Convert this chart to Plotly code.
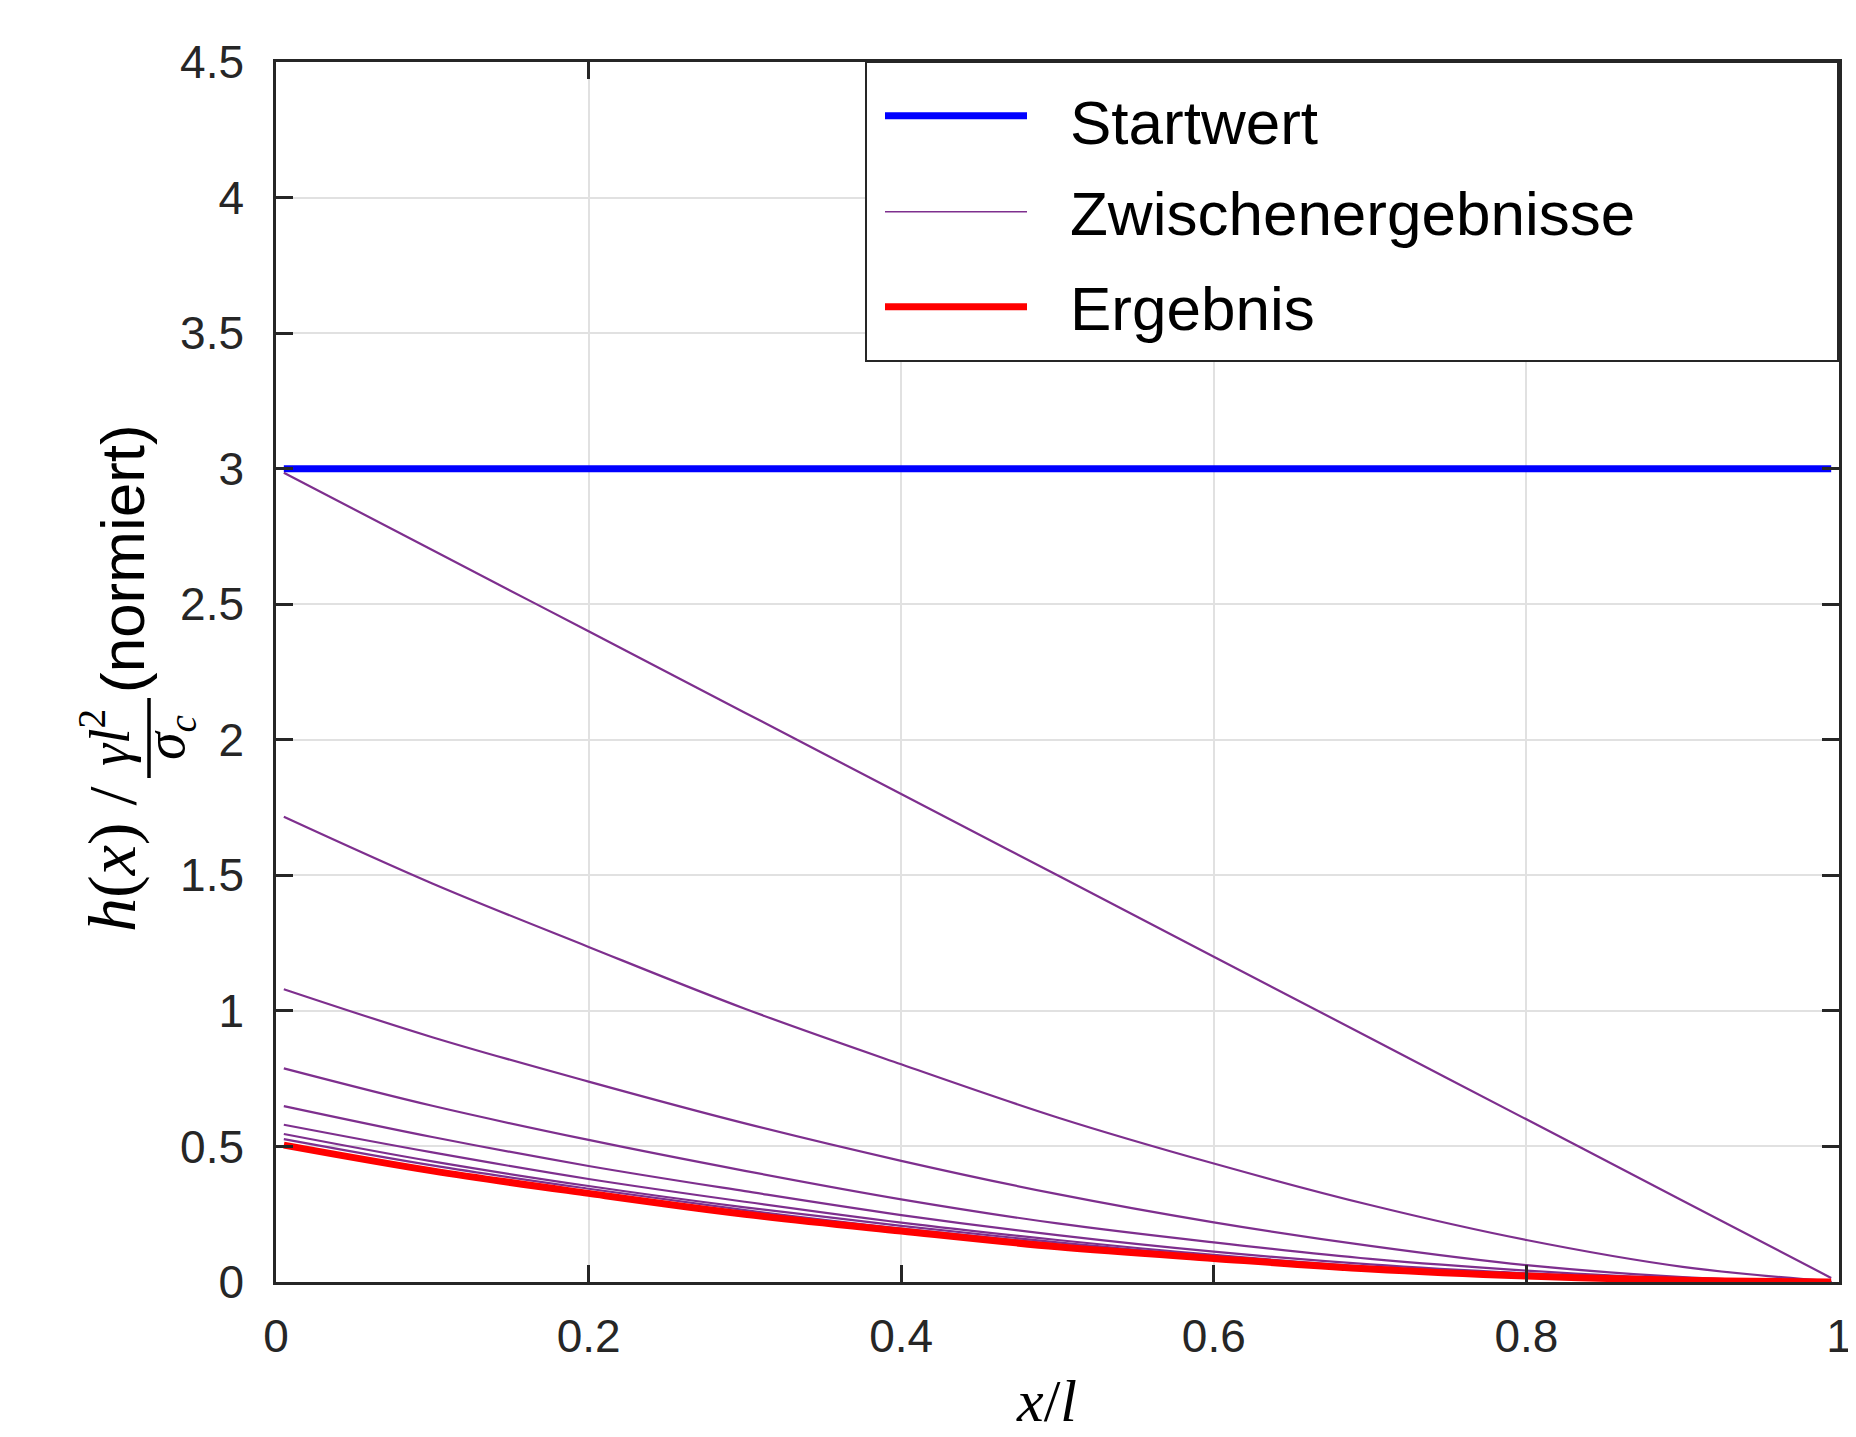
import plotly.graph_objects as go

# ---------------- data ----------------
x_pts = [0.005, 0.1, 0.2, 0.3, 0.4, 0.5, 0.6, 0.7, 0.8, 0.9, 0.995]

startwert = [3.0, 3.0, 3.0, 3.0, 3.0, 3.0, 3.0, 3.0, 3.0, 3.0, 3.0]

zw1 = [2.985, 2.70, 2.40, 2.10, 1.80, 1.50, 1.20, 0.90, 0.60, 0.30, 0.015]
zw2 = [1.716, 1.470, 1.236, 1.008, 0.803, 0.607, 0.437, 0.284, 0.155, 0.056, 0.002]
zw3 = [1.080, 0.903, 0.739, 0.585, 0.447, 0.324, 0.220, 0.133, 0.062, 0.018, 0.000]
zw4 = [0.788, 0.650, 0.524, 0.410, 0.305, 0.216, 0.146, 0.085, 0.042, 0.012, 0.000]
zw5 = [0.649, 0.535, 0.428, 0.335, 0.247, 0.173, 0.112, 0.065, 0.032, 0.009, 0.000]
zw6 = [0.580, 0.478, 0.380, 0.296, 0.219, 0.155, 0.100, 0.056, 0.027, 0.007, 0.000]
zw7 = [0.546, 0.445, 0.354, 0.275, 0.207, 0.146, 0.094, 0.053, 0.025, 0.006, 0.000]
zw8 = [0.527, 0.430, 0.344, 0.265, 0.197, 0.139, 0.090, 0.050, 0.023, 0.006, 0.000]
zwischen = [zw1, zw2, zw3, zw4, zw5, zw6, zw7, zw8]

ergebnis = [0.505, 0.410, 0.327, 0.250, 0.188, 0.130, 0.087, 0.048, 0.022, 0.006, 0.000]

x_ticks = [0, 0.2, 0.4, 0.6, 0.8, 1]
x_ticktext = ["0", "0.2", "0.4", "0.6", "0.8", "1"]
y_ticks = [0, 0.5, 1, 1.5, 2, 2.5, 3, 3.5, 4, 4.5]
y_ticktext = ["0", "0.5", "1", "1.5", "2", "2.5", "3", "3.5", "4", "4.5"]

legend_labels = ["Startwert", "Zwischenergebnisse", "Ergebnis"]

# ---------------- styles ----------------
BLUE = "#0000FF"
PURPLE = "#7E2F8E"
RED = "#FF0000"
AXC = "#262626"
SANS = "Liberation Sans, Arial, Helvetica, sans-serif"
SERIF = "Liberation Serif, Times New Roman, serif"

# page body has an 8px margin; figure is sized/offset to compensate
W, H = 1848, 1429
L, R, T, B = 268, 17, 54, 155
PW, PH = W - L - R, H - T - B
X0_WIN, Y0_WIN = 276, 1282   # window pixel of plot-area left / bottom


def px(xwin):
    return (xwin - X0_WIN) / PW


def py(ywin):
    return (Y0_WIN - ywin) / PH


fig = go.Figure()

fig.add_trace(go.Scatter(x=x_pts, y=startwert, mode="lines", name=legend_labels[0],
                         line=dict(color=BLUE, width=7), showlegend=False))
for i, zw in enumerate(zwischen):
    fig.add_trace(go.Scatter(x=x_pts, y=zw, mode="lines", name=legend_labels[1],
                             line=dict(color=PURPLE, width=2.2, shape="spline", smoothing=1.0),
                             showlegend=False))
fig.add_trace(go.Scatter(x=x_pts, y=ergebnis, mode="lines", name=legend_labels[2],
                         line=dict(color=RED, width=7, shape="spline", smoothing=1.0),
                         showlegend=False))

axis_common = dict(
    showgrid=True, gridcolor="#e1e1e1", gridwidth=2,
    showline=True, linecolor=AXC, linewidth=2.5, mirror="allticks",
    ticks="inside", ticklen=17, tickwidth=2.5, tickcolor=AXC,
    tickfont=dict(family=SANS, size=46, color=AXC),
    zeroline=False,
)

fig.update_xaxes(range=[0, 1], tickvals=x_ticks, ticktext=x_ticktext,
                 ticklabelstandoff=12, **axis_common)
fig.update_yaxes(range=[0, 4.5], tickvals=y_ticks, ticktext=y_ticktext,
                 ticklabelstandoff=20, **axis_common)

# ---------------- manual legend (box, samples, labels) ----------------
shapes = []
annotations = []
shapes.append(dict(type="rect", xref="paper", yref="paper",
                   x0=px(866), x1=px(1838), y0=py(361), y1=py(62),
                   line=dict(color=AXC, width=2), fillcolor="white", layer="above"))
leg_rows = [115.7, 211.7, 306.7]
leg_text_y = [122, 213, 308]
leg_colors = [BLUE, PURPLE, RED]
leg_widths = [7, 1.6, 7]
for lab, yr, yt, c, w in zip(legend_labels, leg_rows, leg_text_y, leg_colors, leg_widths):
    shapes.append(dict(type="line", xref="paper", yref="paper",
                       x0=px(885), x1=px(1027), y0=py(yr), y1=py(yr),
                       line=dict(color=c, width=w), layer="above"))
    annotations.append(dict(xref="paper", yref="paper", x=px(1068), y=py(yt),
                            xanchor="left", yanchor="middle", showarrow=False,
                            text=lab, font=dict(family=SANS, size=62, color="black")))

# ---------------- axis titles ----------------
annotations.append(dict(xref="paper", yref="paper", x=px(1046), y=py(1436),
                        xanchor="center", yanchor="bottom", showarrow=False,
                        text="<i>x</i>/<i>l</i>",
                        font=dict(family=SERIF, size=60, color="black")))

# y title: h(x) / (gamma l^2 / sigma_c) (normiert), rotated
annotations.append(dict(xref="paper", yref="paper", x=px(112), y=py(860),
                        xanchor="center", yanchor="middle", showarrow=False, textangle=-90,
                        text="<i>h</i>(<i>x</i>) /",
                        font=dict(family=SERIF, size=68, color="black")))
annotations.append(dict(xref="paper", yref="paper", x=px(105), y=py(738),
                        xanchor="center", yanchor="middle", showarrow=False, textangle=-90,
                        text="<i>γl</i><sup>2</sup>",
                        font=dict(family=SERIF, size=56, color="black")))
annotations.append(dict(xref="paper", yref="paper", x=px(169), y=py(738),
                        xanchor="center", yanchor="middle", showarrow=False, textangle=-90,
                        text="<i>σ</i><sub><i>c</i></sub>",
                        font=dict(family=SERIF, size=56, color="black")))
shapes.append(dict(type="line", xref="paper", yref="paper",
                   x0=px(149), x1=px(149), y0=py(698), y1=py(778),
                   line=dict(color="black", width=3.5)))
annotations.append(dict(xref="paper", yref="paper", x=px(122), y=py(559),
                        xanchor="center", yanchor="middle", showarrow=False, textangle=-90,
                        text="(normiert)",
                        font=dict(family=SANS, size=62, color="black")))

fig.update_layout(
    width=W, height=H,
    margin=dict(l=L, r=R, t=T, b=B, autoexpand=False),
    paper_bgcolor="white", plot_bgcolor="white",
    showlegend=False,
    shapes=shapes, annotations=annotations,
)

fig.write_html("out.html")
